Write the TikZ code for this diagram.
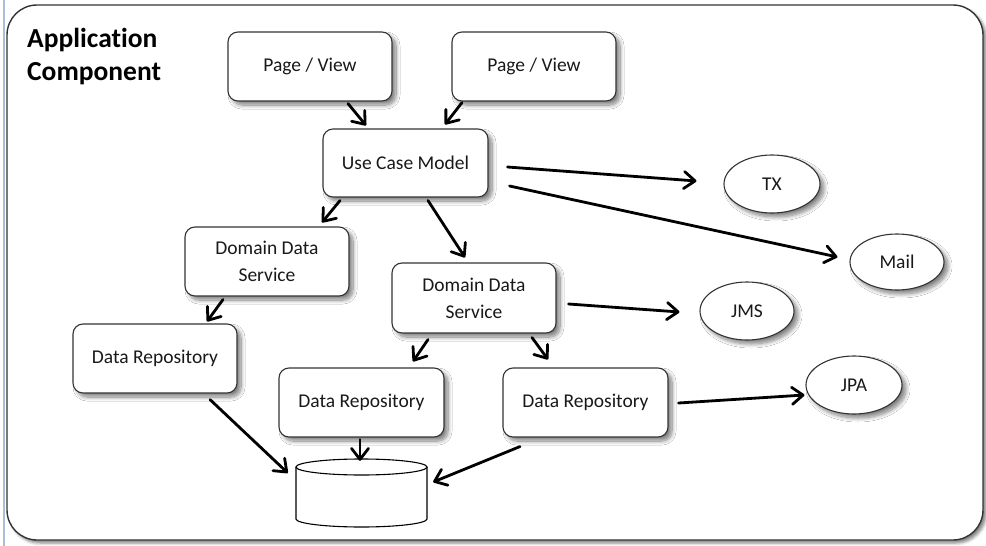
\documentclass[tikz,border=0pt]{standalone}
\usepackage{fontspec}
\setmainfont{Carlito}[Ligatures=NoCommon]
\usetikzlibrary{shapes.geometric,arrows.meta,calc,shadows.blur}

\tikzset{
  softshadow/.style={blur shadow={shadow xshift=4pt, shadow yshift=-4pt,
      shadow blur radius=4pt, shadow blur steps=10, shadow opacity=50}},
  compbox/.style={draw=black!80, line width=1.1pt, rounded corners=10pt,
      fill=white, minimum width=164pt, minimum height=69pt, align=center,
      inner sep=2pt, text=black!90, font=\fontsize{19.5}{27}\selectfont, softshadow},
  resource/.style={ellipse, draw=black!80, line width=1.1pt, fill=white,
      minimum width=96pt, minimum height=58pt, inner sep=0pt, text=black!90,
      font=\fontsize{19.5}{24}\selectfont, softshadow},
  arr/.style={line width=2.8pt, line cap=round, line join=round,
      -{Straight Barb[length=11pt,width=17pt,line cap=round,line join=round]}},
  dbline/.style={draw=black, line width=1.1pt}
}

\begin{document}
\begin{tikzpicture}[x=1pt,y=-1pt]
  \useasboundingbox (0,0) rectangle (986,546);

  % window edge on the left
  \draw[color={rgb,255:red,168;green,190;blue,218}, line width=1.2pt] (4,0) -- (4,546);

  % component frame
  \draw[draw=black!80, line width=1.4pt, fill=white, rounded corners=30pt,
        blur shadow={shadow xshift=3pt, shadow yshift=-3pt, shadow blur radius=3pt,
        shadow opacity=50}]
        (7,5) rectangle (983,540);

  \node[anchor=north west, inner sep=0pt, align=left,
        font=\fontsize{27.5}{33}\selectfont\bfseries] (title) at (27,28)
        {Application\\Component};

  % boxes
  \node[compbox] (pv1)  at (310,66.5)   {Page / View};
  \node[compbox] (pv2)  at (534,66.5)   {Page / View};
  \node[compbox, minimum width=165pt, minimum height=68pt] (ucm) at (405.5,163) {Use Case Model};
  \node[compbox] (dds1) at (267,261.5)  {Domain Data\\Service};
  \node[compbox, minimum height=70pt] (dds2) at (474,298) {Domain Data\\Service};
  \node[compbox] (dr1)  at (155,358.5)  {Data Repository};
  \node[compbox, minimum width=165pt] (dr2) at (361.5,402.5) {Data Repository};
  \node[compbox, minimum width=165pt] (dr3) at (585.5,402.5) {Data Repository};

  % resources
  \node[resource] (tx)   at (772,184) {TX};
  \node[resource, minimum width=94pt, minimum height=56pt] (mail) at (897,262) {Mail};
  \node[resource, minimum width=94pt] (jms)  at (747,311) {JMS};
  \node[resource] (jpa)  at (854,385) {JPA};

  % database cylinder
  \node[minimum width=131pt, minimum height=68pt, inner sep=0pt] (db) at (361.5,493) {};
  \draw[dbline, fill=white] (296,467) -- (296,519)
        arc[start angle=180, end angle=360, x radius=65.5pt, y radius=8pt] -- (427,467);
  \draw[dbline, fill=white] (361.5,467) ellipse[x radius=65.5pt, y radius=8pt];

  % connectors
  \draw[arr] ($(pv1.south)+(38,2)$)    -- ($(ucm.north)+(-39.5,-3)$);
  \draw[arr] ($(pv2.south)+(-72,1)$)   -- ($(ucm.north)+(39.5,-4)$);
  \draw[arr] ($(ucm.east)+(19,4)$)     -- ($(tx.west)+(-27,-3)$);
  \draw[arr] ($(ucm.east)+(21,23)$)    -- ($(mail.west)+(-12,-5)$);
  \draw[arr] ($(ucm.south)+(-65.5,3)$) -- ($(dds1.north)+(55,-4)$);
  \draw[arr] ($(ucm.south)+(22.5,3)$)  -- ($(dds2.north)+(-9,-5)$);
  \draw[arr] ($(dds1.south)+(-44,3)$)  -- ($(dr1.north)+(52,-2)$);
  \draw[arr] ($(dds2.south)+(-46,6)$)  -- ($(dr2.north)+(51.5,-6)$);
  \draw[arr] ($(dds2.south)+(58,4)$)   -- ($(dr3.north)+(-37.5,-8)$);
  \draw[arr] ($(dds2.east)+(12,6)$)    -- ($(jms.west)+(-20,1)$);
  \draw[arr] ($(dr3.east)+(10,0.5)$)   -- ($(jpa.west)+(-1,10)$);
  \draw[arr] ($(dr1.south)+(55,6)$)    -- ($(db.west)+(-8,-20)$);
  \draw[arr] ($(dr2.south)+(-1.5,2)$)  -- ($(db.north)+(-1.5,2)$);
  \draw[arr] ($(dr3.south)+(-65.5,9)$) -- ($(db.east)+(6,-11)$);
\end{tikzpicture}
\end{document}
